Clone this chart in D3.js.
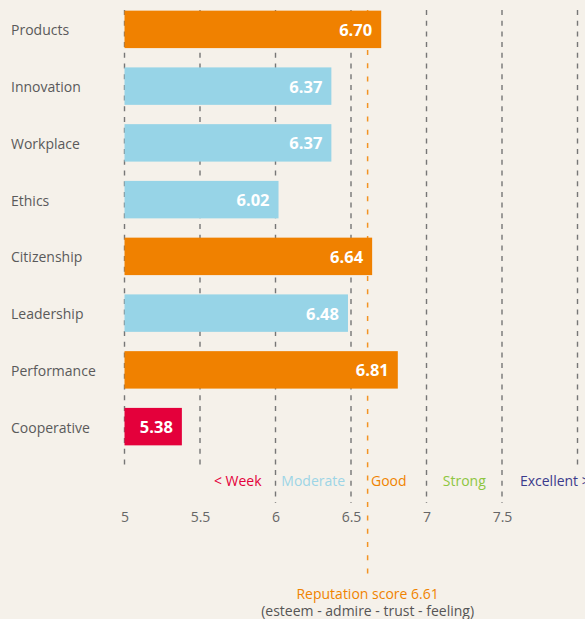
<!DOCTYPE html>
<html>
<head>
<meta charset="utf-8">
<script src="https://cdn.jsdelivr.net/npm/d3@7"></script>
<style>
  html, body { margin: 0; padding: 0; background: #f5f1ea; }
  svg { display: block; font-family: "Open Sans", "Noto Sans", sans-serif; }
</style>
</head>
<body>
<svg id="chart" width="585" height="619"></svg>
<script>
// Reputation dimensions and their scores
const categories = ["Products", "Innovation", "Workplace", "Ethics", "Citizenship", "Leadership", "Performance", "Cooperative"];
const scores = [6.70, 6.37, 6.37, 6.02, 6.64, 6.48, 6.81, 5.38];

// Overall reputation score
const reputationScore = 6.61;
const reputationLabel = "Reputation score 6.61";
const reputationNote = "(esteem - admire - trust - feeling)";

// Axis ticks
const tickValues = [5, 5.5, 6, 6.5, 7, 7.5];
const gridValues = [5, 5.5, 6, 6.5, 7, 7.5, 8];

// Rating bands
const bandNames = ["< Week", "Moderate", "Good", "Strong", "Excellent >"];
const bandLows = [5.5, 6, 6.5, 7, 7.5];
const bandHighs = [6, 6.5, 7, 7.5, 8.2];
const bandColors = ["#e4003b", "#9dd5e6", "#f08300", "#8dc63f", "#3b3a8c"];

const svg = d3.select("#chart");

const x = d3.scaleLinear().domain([5, 8]).range([124.5, 577.5]);
const y = d3.scaleBand().domain(categories).range([1, 455]).paddingInner(0.34).paddingOuter(0.17);

// Bar colour follows the rating band of the score
const barColor = d3.scaleThreshold()
  .domain([6, 6.5, 7])
  .range(["#e4003b", "#97d4e7", "#f08100", "#8dc63f"]);

const gridTop = 10, gridBottom = 465, sepBottom = 503;
const innerBounds = [6, 6.5, 7, 7.5];

// Dashed gridlines
svg.append("g").selectAll("line")
  .data(gridValues)
  .join("line")
  .attr("x1", d => x(d)).attr("x2", d => x(d))
  .attr("y1", gridTop)
  .attr("y2", d => innerBounds.includes(d) ? sepBottom : gridBottom)
  .attr("stroke", "#767676")
  .attr("stroke-width", 1.4)
  .attr("stroke-dasharray", "5,5.7");

// Reputation score line
svg.append("line")
  .attr("x1", x(reputationScore)).attr("x2", x(reputationScore))
  .attr("y1", gridTop).attr("y2", 578)
  .attr("stroke", "#f39323")
  .attr("stroke-width", 1.5)
  .attr("stroke-dasharray", "5,8.3");

// Bars
const rows = categories.map((c, i) => ({ name: c, value: scores[i] }));
svg.append("g").selectAll("rect")
  .data(rows)
  .join("rect")
  .attr("x", x(5))
  .attr("y", d => y(d.name))
  .attr("width", d => x(d.value) - x(5))
  .attr("height", y.bandwidth())
  .attr("fill", d => barColor(d.value));

// Value labels inside bars
svg.append("g").selectAll("text")
  .data(rows)
  .join("text")
  .attr("x", d => x(d.value) - 9)
  .attr("y", d => y(d.name) + y.bandwidth() / 2)
  .attr("dy", "0.4em")
  .attr("text-anchor", "end")
  .attr("fill", "#ffffff")
  .attr("font-weight", "bold")
  .attr("font-size", "16.5px")
  .text(d => d.value.toFixed(2));

// Category labels
svg.append("g").selectAll("text")
  .data(rows)
  .join("text")
  .attr("x", 11)
  .attr("y", d => y(d.name) + y.bandwidth() / 2)
  .attr("dy", "0.42em")
  .attr("fill", "#5a5a5a")
  .attr("font-size", "14px")
  .text(d => d.name);

// Rating band labels
svg.append("g").selectAll("text")
  .data(bandNames)
  .join("text")
  .attr("x", (d, i) => x((bandLows[i] + bandHighs[i]) / 2))
  .attr("y", 486)
  .attr("text-anchor", "middle")
  .attr("fill", (d, i) => bandColors[i])
  .attr("font-size", "14px")
  .text(d => d);

// Bottom axis tick labels
const axis = d3.axisBottom(x).tickValues(tickValues).tickSize(0).tickPadding(0).tickFormat(d3.format("~g"));
const axisG = svg.append("g").attr("transform", "translate(0,512)").call(axis);
axisG.select(".domain").remove();
axisG.selectAll("text")
  .attr("fill", "#666666")
  .attr("font-size", "14px")
  .attr("font-family", "\"Open Sans\", \"Noto Sans\", sans-serif");

// Reputation score caption
svg.append("text")
  .attr("x", x(reputationScore))
  .attr("y", 599)
  .attr("text-anchor", "middle")
  .attr("fill", "#f08300")
  .attr("font-size", "14px")
  .text(reputationLabel);

svg.append("text")
  .attr("x", x(reputationScore))
  .attr("y", 616)
  .attr("text-anchor", "middle")
  .attr("fill", "#555555")
  .attr("font-size", "14px")
  .text(reputationNote);
</script>
</body>
</html>
